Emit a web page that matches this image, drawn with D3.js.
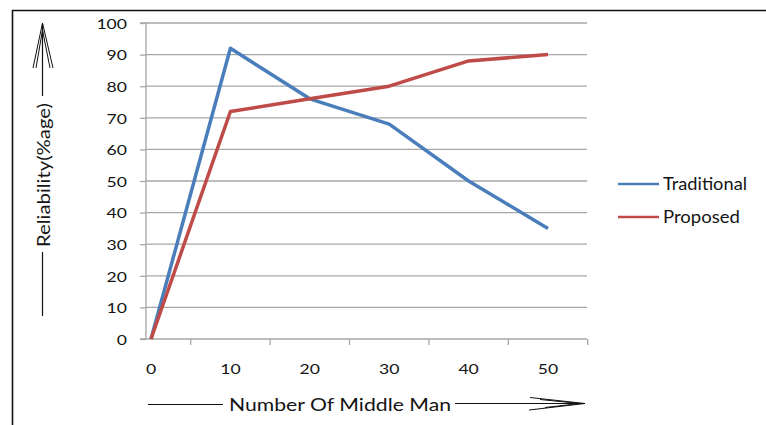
<!DOCTYPE html>
<html><head><meta charset="utf-8">
<script src="https://cdn.jsdelivr.net/npm/d3@7/dist/d3.min.js"></script>
<style>body{margin:0;background:#fff;} text{font-family:Lato,"Open Sans",sans-serif;}</style>
</head><body>
<svg id="c" width="766" height="425"></svg>
<script>
const xValues = [0, 10, 20, 30, 40, 50];
const traditional = [0, 92, 76, 68, 50, 35];
const proposed = [0, 72, 76, 80, 88, 90];
const yTicks = [0, 10, 20, 30, 40, 50, 60, 70, 80, 90, 100];
const xTickMarks = [5, 15, 25, 35, 45, 55];
const seriesNames = ["Traditional", "Proposed"];
const seriesColors = ["#4A7EBB", "#BE4B48"];

const svg = d3.select("#c");
const x = d3.scaleLinear().domain([0, 50]).range([151, 548]);
const xLeft = x.invert(146), xRight = x.invert(587);
const y = d3.scaleLinear().domain([0, 100]).range([339, 23]);
const ink = "#141414";
const digitW = 10.2;

// outer frame
svg.append("path").attr("d", "M12.5,425 L12.5,10.5 L766,10.5").attr("fill", "none").attr("stroke", "#111").attr("stroke-width", 1.6);

// gridlines
svg.append("g").selectAll("line").data(yTicks.filter(d => d > 0)).join("line")
  .attr("x1", x(xLeft)).attr("x2", x(xRight)).attr("y1", d => y(d)).attr("y2", d => y(d))
  .attr("stroke", "#a6a6a6").attr("stroke-width", 1.3);

// y axis
const yAxis = d3.axisLeft(y).tickValues(yTicks).tickSize(6).tickPadding(19);
const gy = svg.append("g").attr("transform", `translate(${x(xLeft)},0)`).call(yAxis);
gy.select(".domain").attr("stroke", "#a6a6a6").attr("stroke-width", 1.3).attr("d", `M-6,${y(100)}H0V${y(0)}H-6`);
gy.selectAll(".tick line").attr("stroke", "#a6a6a6").attr("stroke-width", 1.3);
gy.selectAll(".tick text").attr("font-size", 14).attr("fill", ink).attr("dy", "0.38em")
  .style("font-family", "Lato,'Open Sans',sans-serif")
  .attr("text-anchor", "start")
  .attr("x", d => -19 - String(d).length * digitW)
  .attr("textLength", d => String(d).length * digitW).attr("lengthAdjust", "spacingAndGlyphs");

// x axis: baseline, tick marks between labels
const gx = svg.append("g").attr("transform", `translate(0,${y(0)})`);
gx.append("line").attr("x1", x(xLeft)).attr("x2", x(xRight)).attr("stroke", "#a6a6a6").attr("stroke-width", 1.3);
gx.selectAll("line.tm").data(xTickMarks).join("line").attr("class", "tm")
  .attr("x1", d => x(d)).attr("x2", d => x(d)).attr("y1", 0).attr("y2", 6)
  .attr("stroke", "#a6a6a6").attr("stroke-width", 1.3);
gx.selectAll("text").data(xValues).join("text")
  .attr("x", d => x(d) - String(d).length * digitW / 2).attr("y", 35)
  .attr("font-size", 14).attr("fill", ink)
  .attr("textLength", d => String(d).length * digitW).attr("lengthAdjust", "spacingAndGlyphs")
  .text(d => d);

// lines
const line = d3.line().x((d, i) => x(xValues[i])).y(d => y(d));
[traditional, proposed].forEach((s, k) => {
  svg.append("path").datum(s).attr("d", line).attr("fill", "none")
    .attr("stroke", seriesColors[k]).attr("stroke-width", 3.5).attr("stroke-linejoin", "round");
});

// legend
const legendW = [84, 77];
seriesNames.forEach((n, k) => {
  const ly = 184 + k * 33;
  svg.append("line").attr("x1", 618).attr("x2", 659).attr("y1", ly).attr("y2", ly)
    .attr("stroke", seriesColors[k]).attr("stroke-width", 2.6);
  svg.append("text").attr("x", 663).attr("y", ly + 6).attr("font-size", 16.5).attr("fill", ink)
    .attr("textLength", legendW[k]).attr("lengthAdjust", "spacingAndGlyphs").text(n);
});

// y axis title with arrow
svg.append("text").attr("transform", "translate(50,247) rotate(-90)")
  .attr("font-size", 16.5).attr("fill", ink)
  .attr("textLength", 144).attr("lengthAdjust", "spacingAndGlyphs").text("Reliability(%age)");
svg.append("line").attr("x1", 42.5).attr("x2", 42.5).attr("y1", 24).attr("y2", 96).attr("stroke", "#111").attr("stroke-width", 1.2);
svg.append("line").attr("x1", 42.5).attr("x2", 42.5).attr("y1", 252).attr("y2", 316).attr("stroke", "#111").attr("stroke-width", 1.2);
svg.append("path").attr("d", "M33,68 L42.5,23 L53,68 M36,68 L42.5,30 L50,68").attr("fill", "none").attr("stroke", "#111").attr("stroke-width", 1);

// x axis title with arrow
svg.append("text").attr("x", 229).attr("y", 411)
  .attr("font-size", 17).attr("fill", ink)
  .attr("textLength", 222).attr("lengthAdjust", "spacingAndGlyphs").text("Number Of Middle Man");
svg.append("line").attr("x1", 148).attr("x2", 223).attr("y1", 404.5).attr("y2", 404.5).attr("stroke", "#111").attr("stroke-width", 1.2);
svg.append("line").attr("x1", 455).attr("x2", 584).attr("y1", 403.5).attr("y2", 403.5).attr("stroke", "#111").attr("stroke-width", 1.2);
svg.append("path").attr("d", "M530,397.5 L585,403.5 L529,410 M540,399.5 L580,403.5 M545,407.5 L580,403.5").attr("fill", "none").attr("stroke", "#111").attr("stroke-width", 1);
</script>
</body></html>
